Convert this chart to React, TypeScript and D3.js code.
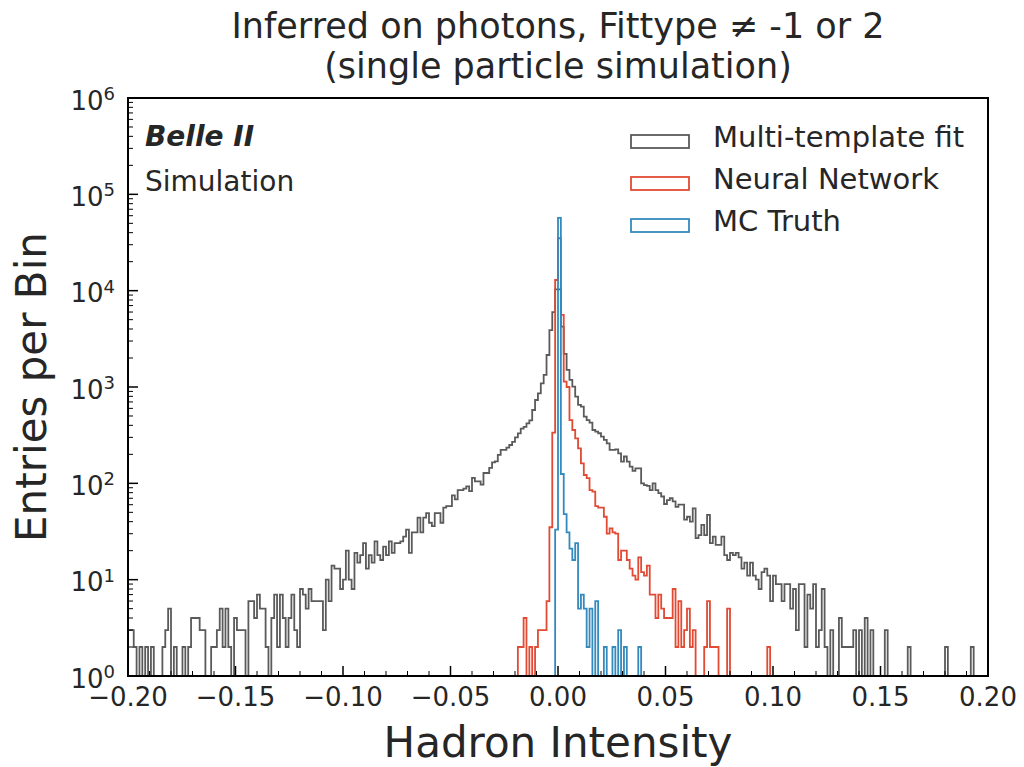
import React, { useEffect, useRef } from "react";
import * as d3 from "d3";

// histogram binning: 300 equal bins over the x range
const binCount = 300;
const xDomain: [number, number] = [-0.2, 0.2];

const xMajorTicks = [-0.2, -0.15, -0.1, -0.05, 0, 0.05, 0.1, 0.15, 0.2];
const xTickLabels = ["−0.20", "−0.15", "−0.10", "−0.05", "0.00", "0.05", "0.10", "0.15", "0.20"];
const yExponents = [0, 1, 2, 3, 4, 5, 6];

const titleLines = ["Inferred on photons, Fittype ≠ -1 or 2", "(single particle simulation)"];
const seriesNames = ["Multi-template fit", "Neural Network", "MC Truth"];
const seriesColors = ["#5a5a5a", "#E24A33", "#348ABD"];

// entries per bin
const multiTemplateCounts = [
  3, 3, 2, 0, 2, 0, 2, 0, 2, 0,
  0, 0, 2, 3, 5, 0, 2, 0, 0, 2,
  1, 2, 4, 4, 4, 3, 3, 0, 0, 2,
  2, 3, 5, 2, 5, 2, 0, 4, 3, 3,
  3, 1, 6, 6, 4, 7, 5, 5, 2, 1,
  4, 7, 2, 7, 4, 2, 4, 7, 3, 2,
  8, 7, 5, 8, 6, 6, 6, 6, 3, 10,
  6, 14, 13, 13, 8, 10, 20, 10, 8, 19,
  15, 18, 24, 13, 18, 15, 25, 18, 16, 22,
  18, 25, 19, 24, 24, 25, 28, 33, 19, 31,
  31, 44, 31, 44, 49, 39, 36, 49, 49, 39,
  56, 58, 58, 75, 68, 85, 85, 88, 93, 83,
  114, 105, 105, 97, 128, 128, 145, 165, 169, 197,
  222, 222, 235, 250, 270, 300, 330, 370, 385, 420,
  450, 577, 733, 860, 1092, 1333, 2150, 3900, 6000, 10300,
  10300, 4230, 2205, 1503, 1183, 1008, 794, 651, 625, 492,
  454, 426, 358, 344, 331, 305, 282, 260, 222, 222,
  225, 205, 168, 190, 168, 149, 135, 143, 143, 100,
  96, 94, 85, 100, 85, 79, 73, 61, 67, 70,
  65, 57, 60, 60, 42, 45, 40, 55, 27, 29,
  37, 29, 47, 24, 28, 23, 23, 28, 18, 16,
  19, 18, 19, 17, 13, 15, 11, 15, 11, 10,
  8, 12, 13, 11, 6, 11, 9, 9, 6, 9,
  9, 5, 8, 3, 9, 9, 2, 7, 5, 9,
  2, 3, 8, 2, 1, 3, 0, 0, 4, 2,
  2, 2, 2, 3, 1, 3, 1, 4, 1, 3,
  0, 0, 0, 0, 3, 0, 0, 0, 0, 0,
  0, 0, 2, 0, 0, 0, 0, 0, 0, 0,
  0, 0, 0, 0, 0, 2, 0, 0, 0, 0,
  0, 0, 0, 0, 2, 0, 0, 0, 0, 0,
];

const neuralNetworkFirstBin = 136;
const neuralNetworkCounts = [
  2, 2, 4, 0, 2, 0, 2, 3, 3, 3,
  6, 35, 336, 12900, 35000, 5600, 1135, 1000, 454, 358,
  293, 231, 161, 122, 113, 85, 82, 58, 56, 56,
  45, 30, 34, 31, 30, 16, 20, 20, 16, 13,
  11, 10, 17, 12, 11, 14, 7, 7, 4, 7,
  5, 4, 4, 4, 8, 2, 6, 2, 3, 5,
  2, 3, 0, 0, 0, 2, 6, 2, 2, 2,
  0, 0, 0, 5, 0, 0, 0, 0, 0, 0,
  0, 0, 0, 0, 0, 0, 0, 2,
];

const mcTruthFirstBin = 149;
const mcTruthCounts = [
  33, 57000, 125, 48, 31, 21, 16, 24, 5, 7,
  5, 2, 5, 0, 6, 0, 0, 2, 0, 0,
  2, 0, 3, 0, 2, 0, 0, 0, 0, 2,
];

const padCounts = (first: number, counts: number[]) => {
  const full = new Array(binCount).fill(0);
  counts.forEach((c, i) => (full[first + i] = c));
  return full;
};

const App: React.FC = () => {
  const svgRef = useRef<SVGSVGElement>(null);

  useEffect(() => {
    if (!svgRef.current) return;
    d3.select(svgRef.current).selectAll("*").remove();

    const width = 1024;
    const height = 767;
    const plot = { left: 128, right: 988, top: 98, bottom: 676 };
    const font = "DejaVu Sans, sans-serif";

    const svg = d3
      .select(svgRef.current)
      .attr("width", width)
      .attr("height", height)
      .style("font-family", font);

    svg.append("rect").attr("width", width).attr("height", height).attr("fill", "white");

    const x = d3.scaleLinear().domain(xDomain).range([plot.left, plot.right]);
    const y = d3.scaleLog().domain([1, 1e6]).range([plot.bottom, plot.top]);

    const binWidth = (xDomain[1] - xDomain[0]) / binCount;
    const edges = d3.range(binCount + 1).map((i) => xDomain[0] + i * binWidth);

    svg
      .append("clipPath")
      .attr("id", "plot-clip")
      .append("rect")
      .attr("x", plot.left)
      .attr("y", plot.top)
      .attr("width", plot.right - plot.left)
      .attr("height", plot.bottom - plot.top);

    // step outline the way a "step" histogram is drawn; empty bins fall below the axis
    const stepPath = (counts: number[]) => {
      const yOf = (v: number) => (v > 0 ? y(v) : plot.bottom + 20);
      const p = d3.path();
      p.moveTo(x(edges[0]), plot.bottom + 20);
      counts.forEach((c, i) => {
        p.lineTo(x(edges[i]), yOf(c));
        p.lineTo(x(edges[i + 1]), yOf(c));
      });
      p.lineTo(x(edges[binCount]), plot.bottom + 20);
      return p.toString();
    };

    const series = [
      multiTemplateCounts,
      padCounts(neuralNetworkFirstBin, neuralNetworkCounts),
      padCounts(mcTruthFirstBin, mcTruthCounts),
    ];

    const g = svg.append("g").attr("clip-path", "url(#plot-clip)");
    series.forEach((counts, i) => {
      g.append("path")
        .attr("d", stepPath(counts))
        .attr("fill", "none")
        .attr("stroke", seriesColors[i])
        .attr("stroke-width", 1.8)
        .attr("stroke-linejoin", "miter");
    });

    // ticks pointing inward
    const xMinor = d3.range(-19, 20).filter((i) => i % 5 !== 0).map((i) => i / 100);
    xMinor.forEach((t) => {
      svg.append("line")
        .attr("x1", x(t)).attr("x2", x(t))
        .attr("y1", plot.bottom).attr("y2", plot.bottom - 5)
        .attr("stroke", "black").attr("stroke-width", 1);
    });
    xMajorTicks.forEach((t, i) => {
      svg.append("line")
        .attr("x1", x(t)).attr("x2", x(t))
        .attr("y1", plot.bottom).attr("y2", plot.bottom - 10)
        .attr("stroke", "black").attr("stroke-width", 1.5);
      svg.append("text")
        .attr("x", x(t))
        .attr("y", 706)
        .attr("text-anchor", "middle")
        .attr("font-size", 26)
        .attr("fill", "#262626")
        .text(xTickLabels[i]);
    });

    yExponents.slice(0, -1).forEach((e) => {
      d3.range(2, 10).forEach((m) => {
        const yy = y(m * Math.pow(10, e));
        svg.append("line")
          .attr("x1", plot.left).attr("x2", plot.left + 5)
          .attr("y1", yy).attr("y2", yy)
          .attr("stroke", "black").attr("stroke-width", 1);
      });
    });
    yExponents.forEach((e) => {
      const yy = y(Math.pow(10, e));
      svg.append("line")
        .attr("x1", plot.left).attr("x2", plot.left + 10)
        .attr("y1", yy).attr("y2", yy)
        .attr("stroke", "black").attr("stroke-width", 1.5);
      const label = svg.append("text")
        .attr("x", 115)
        .attr("y", yy + 11.5)
        .attr("text-anchor", "end")
        .attr("font-size", 26)
        .attr("fill", "#262626");
      label.append("tspan").text("10");
      label.append("tspan").attr("dy", -9.5).attr("font-size", 18).text(String(e));
    });

    // frame
    svg.append("rect")
      .attr("x", plot.left)
      .attr("y", plot.top)
      .attr("width", plot.right - plot.left)
      .attr("height", plot.bottom - plot.top)
      .attr("fill", "none")
      .attr("stroke", "black")
      .attr("stroke-width", 2);

    // titles and axis labels
    titleLines.forEach((t, i) => {
      svg.append("text")
        .attr("x", (plot.left + plot.right) / 2)
        .attr("y", 38 + i * 40)
        .attr("text-anchor", "middle")
        .attr("font-size", 35)
        .attr("fill", "#262626")
        .text(t);
    });

    svg.append("text")
      .attr("x", (plot.left + plot.right) / 2)
      .attr("y", 757)
      .attr("text-anchor", "middle")
      .attr("font-size", 42)
      .attr("fill", "#262626")
      .text("Hadron Intensity");

    svg.append("text")
      .attr("transform", `translate(46,${(plot.top + plot.bottom) / 2}) rotate(-90)`)
      .attr("text-anchor", "middle")
      .attr("font-size", 42)
      .attr("fill", "#262626")
      .text("Entries per Bin");

    svg.append("text")
      .attr("x", 145).attr("y", 146)
      .attr("font-size", 28)
      .attr("font-weight", "bold")
      .attr("font-style", "italic")
      .attr("fill", "#262626")
      .text("Belle II");
    svg.append("text")
      .attr("x", 145).attr("y", 191)
      .attr("font-size", 28)
      .attr("fill", "#262626")
      .text("Simulation");

    // legend
    seriesNames.forEach((name, i) => {
      const base = 147 + i * 42;
      svg.append("rect")
        .attr("x", 631).attr("y", base - 12)
        .attr("width", 58).attr("height", 13)
        .attr("fill", "white")
        .attr("stroke", seriesColors[i])
        .attr("stroke-width", 1.8);
      svg.append("text")
        .attr("x", 713).attr("y", base)
        .attr("font-size", 29)
        .attr("fill", "#262626")
        .text(name);
    });
  }, []);

  return <svg ref={svgRef} style={{ position: "absolute", left: 0, top: 0 }}></svg>;
};

export default App;
